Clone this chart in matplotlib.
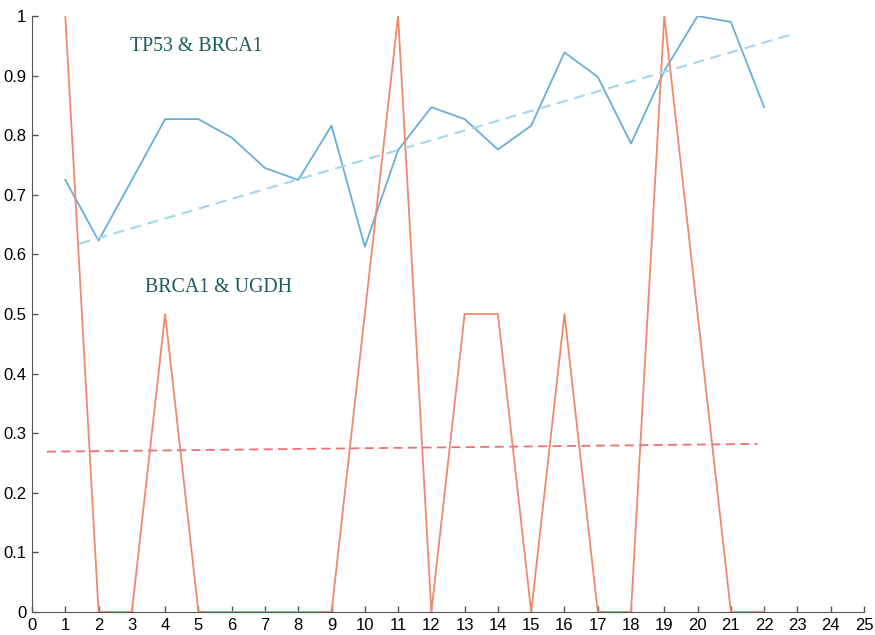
import matplotlib
matplotlib.use("Agg")
import matplotlib.pyplot as plt
from matplotlib.ticker import FuncFormatter

# === Data ===
positions = list(range(1, 23))
tp53_brca1 = [0.725, 0.623, 0.725, 0.827, 0.827, 0.796, 0.745, 0.725, 0.816, 0.613, 0.775,
              0.847, 0.827, 0.776, 0.816, 0.939, 0.898, 0.786, 0.908, 1.0, 0.990, 0.847]
brca1_ugdh = [1.0, 0.0, 0.0, 0.5, 0.0, 0.0, 0.0, 0.0, 0.0, 0.5, 1.0,
              0.0, 0.5, 0.5, 0.0, 0.5, 0.0, 0.0, 1.0, 0.5, 0.0, 0.0]

# trend lines (end points)
trend_tp53_x = [1.42, 22.76]
trend_tp53_y = [0.618, 0.968]
trend_ugdh_x = [0.45, 21.8]
trend_ugdh_y = [0.269, 0.282]

plt.rcParams.update({
    "font.family": "Liberation Sans",
    "font.size": 12,
    "axes.edgecolor": "#555555",
    "xtick.color": "#555555",
    "ytick.color": "#555555",
    "xtick.labelcolor": "black",
    "ytick.labelcolor": "black",
})

fig = plt.figure(figsize=(8.75, 6.35), dpi=100)
ax = fig.add_axes([0.0366, 0.0362, 0.9508, 0.9386])

ax.plot(positions, tp53_brca1, color="#6aaed6", lw=1.3)
ax.plot(positions, brca1_ugdh, color="#f0886c", lw=1.3)
ax.plot(trend_tp53_x, trend_tp53_y, color="#a8d8ec", lw=1.6, linestyle=(0, (5, 3)))
ax.plot(trend_ugdh_x, trend_ugdh_y, color="#f07070", lw=1.3, linestyle=(0, (5, 3)))

ax.text(4.93, 0.948, "TP53 & BRCA1", family="Liberation Serif", fontsize=14.3,
        color="#1b5a5a", ha="center", va="center")
ax.text(5.6, 0.544, "BRCA1 & UGDH", family="Liberation Serif", fontsize=14.3,
        color="#1b5a5a", ha="center", va="center")

ax.set_xlim(0, 25)
ax.set_ylim(0, 1)
ax.set_xticks(range(0, 26))
ax.set_yticks([i / 10 for i in range(11)])
ax.yaxis.set_major_formatter(FuncFormatter(lambda v, p: f"{v:g}"))
ax.tick_params(direction="in", length=4.5, width=1)
ax.tick_params(axis="x", pad=4)
ax.tick_params(axis="y", pad=4)
ax.spines["top"].set_visible(False)
ax.spines["right"].set_visible(False)

plt.savefig("out.png", dpi=100)
plt.close()
